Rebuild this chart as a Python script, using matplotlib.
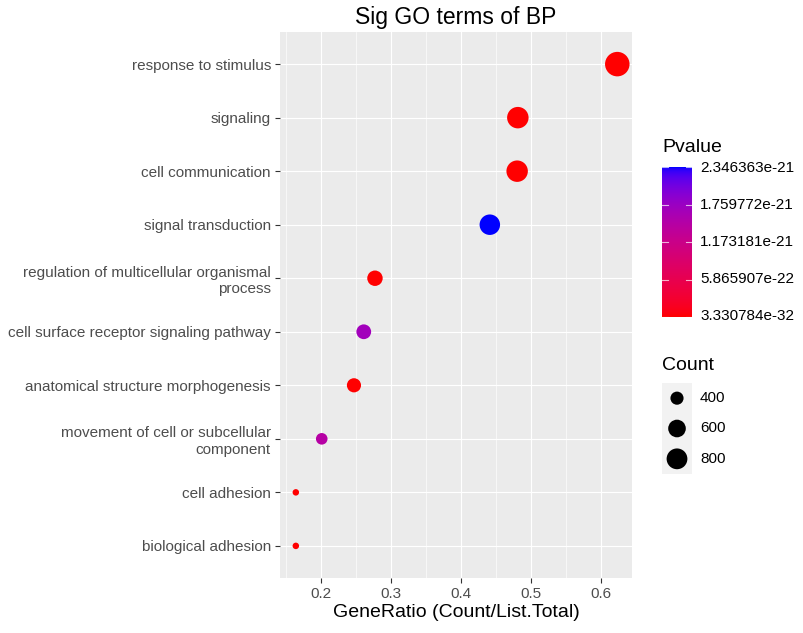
import numpy as np
import matplotlib
matplotlib.use('Agg')
import matplotlib.pyplot as plt
from matplotlib.colors import ListedColormap, Normalize

plt.rcParams['font.family'] = ['Liberation Sans', 'DejaVu Sans']

# GO terms (top of chart first)
terms = ['response to stimulus', 'signaling', 'cell communication', 'signal transduction',
         'regulation of multicellular organismal\nprocess', 'cell surface receptor signaling pathway',
         'anatomical structure morphogenesis', 'movement of cell or subcellular\ncomponent',
         'cell adhesion', 'biological adhesion']
gene_ratio = [0.623, 0.481, 0.480, 0.441, 0.277, 0.261, 0.247, 0.201, 0.164, 0.164]
counts = [1102, 851, 849, 780, 490, 461, 437, 355, 290, 290]
pvalues = [3.330784e-32, 1.2e-30, 2.5e-30, 2.346363e-21, 4.0e-28, 1.68e-21,
           6.0e-27, 1.45e-21, 2.0e-24, 3.0e-24]
p_ticks = [3.330784e-32, 5.865907e-22, 1.173181e-21, 1.759772e-21, 2.346363e-21]
p_labels = ['3.330784e-32', '5.865907e-22', '1.173181e-21', '1.759772e-21', '2.346363e-21']
size_breaks = [400, 600, 800]
x_ticks = [0.2, 0.3, 0.4, 0.5, 0.6]


# red -> blue gradient interpolated in CIELAB, like ggplot
def srgb_to_lab(rgb):
  c = np.array(rgb, dtype=float)
  c = np.where(c <= 0.04045, c / 12.92, ((c + 0.055) / 1.055) ** 2.4)
  m = np.array([[0.4124, 0.3576, 0.1805], [0.2126, 0.7152, 0.0722], [0.0193, 0.1192, 0.9505]])
  xyz = m @ c / np.array([0.95047, 1.0, 1.08883])
  f = np.where(xyz > 0.008856, np.cbrt(xyz), 7.787 * xyz + 16 / 116)
  return np.array([116 * f[1] - 16, 500 * (f[0] - f[1]), 200 * (f[1] - f[2])])


def lab_to_srgb(lab):
  L, a, b = lab
  fy = (L + 16) / 116
  fx = fy + a / 500
  fz = fy - b / 200
  f = np.array([fx, fy, fz])
  xyz = np.where(f ** 3 > 0.008856, f ** 3, (f - 16 / 116) / 7.787) * np.array([0.95047, 1.0, 1.08883])
  minv = np.array([[3.2406, -1.5372, -0.4986], [-0.9689, 1.8758, 0.0415], [0.0557, -0.2040, 1.0570]])
  c = minv @ xyz
  c = np.clip(c, 0, 1)
  c = np.where(c <= 0.0031308, 12.92 * c, 1.055 * c ** (1 / 2.4) - 0.055)
  return np.clip(c, 0, 1)


lab_lo = srgb_to_lab([1, 0, 0])
lab_hi = srgb_to_lab([0, 0, 1])
cmap = ListedColormap([lab_to_srgb(lab_lo + t * (lab_hi - lab_lo)) for t in np.linspace(0, 1, 256)])
norm = Normalize(vmin=min(p_ticks), vmax=max(p_ticks))

# size scale (diameter in pixels -> points)
cmin, cmax = min(counts), max(counts)
dmin, dmax = 6.5, 24.5


def marker_area(c):
  c = np.asarray(c, dtype=float)
  d = dmin + (dmax - dmin) * np.sqrt(np.clip((c - cmin) / (cmax - cmin), 0, 1))
  return (d * 0.72) ** 2


W, H = 804, 633
fig = plt.figure(figsize=(W / 100, H / 100), dpi=100)
ax = fig.add_axes([280 / W, 1 - 578 / H, (632 - 280) / W, (578 - 32) / H])
ax.set_facecolor('#EBEBEB')
ypos = np.arange(len(terms))[::-1] + 1
ax.set_xlim(0.1414, 0.644)
ax.set_ylim(0.4, len(terms) + 0.6)
ax.set_xticks(x_ticks)
ax.set_xticks([0.15, 0.25, 0.35, 0.45, 0.55], minor=True)
ax.set_yticks(ypos)
ax.set_yticklabels(terms, ha='right', multialignment='right')
ax.grid(which='major', color='white', linewidth=0.85)
ax.grid(which='minor', axis='x', color='white', linewidth=0.45)
ax.set_axisbelow(True)
for s in ax.spines.values():
  s.set_visible(False)
ax.tick_params(axis='both', which='major', length=3.5, width=0.8, color='#333333',
               labelcolor='#4D4D4D', labelsize=11, pad=3)
ax.tick_params(axis='both', which='minor', length=0)
ax.scatter(gene_ratio, ypos, s=marker_area(counts), c=pvalues, cmap=cmap, norm=norm,
           linewidths=0, zorder=3)
ax.set_xlabel('GeneRatio (Count/List.Total)', fontsize=14, color='black', labelpad=2)
ax.set_title('Sig GO terms of BP', fontsize=16.5, pad=6)

# colour bar legend
fig.text(662 / W, 1 - 148 / H, 'Pvalue', fontsize=14, va='center', ha='left')
cax = fig.add_axes([662 / W, 1 - 317 / H, 30 / W, 150 / H])
grad = np.linspace(0, 1, 256).reshape(-1, 1)
cax.imshow(grad, aspect='auto', cmap=cmap, origin='lower', extent=[0, 1, 0, 1])
cax.set_xlim(0, 1)
cax.set_ylim(-0.0, 1.0)
for t in p_ticks:
  f = (t - min(p_ticks)) / (max(p_ticks) - min(p_ticks))
  cax.plot([0, 0.2], [f, f], color='white', linewidth=0.8, alpha=0.7)
  cax.plot([0.8, 1], [f, f], color='white', linewidth=0.8, alpha=0.7)
cax.set_xticks([])
cax.set_yticks([])
for s in cax.spines.values():
  s.set_visible(False)
for t, lab in zip(p_ticks, p_labels):
  f = (t - min(p_ticks)) / (max(p_ticks) - min(p_ticks))
  fig.text(700 / W, 1 - (316 - f * 148) / H, lab, fontsize=11, va='center', ha='left')

# size legend
fig.text(662 / W, 1 - 365 / H, 'Count', fontsize=14, va='center', ha='left')
sax = fig.add_axes([662 / W, 1 - 474 / H, 30 / W, 91 / H])
sax.set_facecolor('#F2F2F2')
sax.set_xlim(0, 1)
sax.set_ylim(0, len(size_breaks))
sy = np.arange(len(size_breaks))[::-1] + 0.5
sax.scatter([0.5] * len(size_breaks), sy, s=marker_area(size_breaks), color='black', linewidths=0)
sax.set_xticks([])
sax.set_yticks([])
for s in sax.spines.values():
  s.set_visible(False)
for yy, b in zip(sy, size_breaks):
  fig.text(700 / W, 1 - (474 - yy / len(size_breaks) * 91) / H, str(b), fontsize=11,
           va='center', ha='left')

fig.savefig('out.png', dpi=100)
